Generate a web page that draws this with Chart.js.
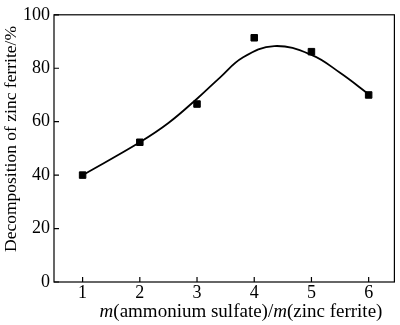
<!DOCTYPE html>
<html>
<head>
<meta charset="utf-8">
<script src="https://cdn.jsdelivr.net/npm/chart.js@4.4.1/dist/chart.umd.min.js"></script>
<style>
  html, body { margin: 0; padding: 0; background: #fff; }
  #wrap { width: 400px; height: 325px; }
</style>
</head>
<body>
<div id="wrap"><canvas id="chart"></canvas></div>
<script>
// measured decomposition at each mass ratio
var ratio = [1, 2, 3, 4, 5, 6];
var decomposition = [40, 52.3, 66.6, 91.4, 86.2, 70.0];

// fitted trend line
var curveX = [1, 2, 2.5, 3, 3.4, 3.8, 4.35, 5, 5.5, 6];
var curveY = [40, 52.3, 59.5, 68.6, 76.5, 84, 88.3, 85, 78.3, 70.3];

var xTicks = [1, 2, 3, 4, 5, 6];
var yTicks = [0, 20, 40, 60, 80, 100];

var serif = "'Liberation Serif', 'Times New Roman', serif";

// frame, inward ticks and the two axis titles
var framePlugin = {
    id: 'frame',
    afterDraw: function(chart){
        var ctx = chart.ctx;
        var a = chart.chartArea;
        var xs = chart.scales.x, ys = chart.scales.y;
        ctx.save();
        ctx.strokeStyle = '#000';
        ctx.lineWidth = 1.2;
        ctx.strokeRect(a.left, a.top, a.right - a.left, a.bottom - a.top);
        ctx.beginPath();
        xTicks.forEach(function(v){
            var px = xs.getPixelForValue(v);
            ctx.moveTo(px, a.bottom);
            ctx.lineTo(px, a.bottom - 5);
        });
        yTicks.forEach(function(v){
            var py = ys.getPixelForValue(v);
            ctx.moveTo(a.left, py);
            ctx.lineTo(a.left + 5, py);
        });
        ctx.stroke();

        ctx.fillStyle = '#000';
        ctx.textBaseline = 'alphabetic';
        // x title, italic m
        var parts = [['m', true], ['(ammonium sulfate)/', false], ['m', true], ['(zinc ferrite)', false]];
        var total = 0;
        parts.forEach(function(p){
            ctx.font = (p[1] ? 'italic ' : '') + '19px ' + serif;
            total += ctx.measureText(p[0]).width;
        });
        var x = 241 - total / 2;
        parts.forEach(function(p){
            ctx.font = (p[1] ? 'italic ' : '') + '19px ' + serif;
            ctx.textAlign = 'left';
            ctx.fillText(p[0], x, 317);
            x += ctx.measureText(p[0]).width;
        });
        // y title
        ctx.translate(16, 139);
        ctx.rotate(-Math.PI / 2);
        ctx.font = '17.5px ' + serif;
        ctx.textAlign = 'center';
        ctx.fillText('Decomposition of zinc ferrite/%', 0, 0);
        ctx.restore();
    }
};

var ctx = document.getElementById('chart').getContext('2d');
new Chart(ctx, {
    type: 'scatter',
    data: {
        datasets: [{
            label: 'fit',
            data: curveX.map(function(v, i){ return {x: v, y: curveY[i]}; }),
            showLine: true,
            borderColor: '#000',
            borderWidth: 1.8,
            pointRadius: 0,
            tension: 0.4,
            fill: false
        }, {
            label: 'measured',
            data: ratio.map(function(v, i){ return {x: v, y: decomposition[i]}; }),
            showLine: false,
            pointStyle: 'rect',
            pointRadius: 4.6,
            pointBackgroundColor: '#000',
            pointBorderColor: '#000',
            pointBorderWidth: 1
        }]
    },
    options: {
        responsive: true,
        maintainAspectRatio: false,
        animation: false,
        layout: { padding: { top: 6, right: 2, left: 0, bottom: 0 } },
        plugins: {
            legend: { display: false },
            tooltip: { enabled: false }
        },
        scales: {
            x: {
                type: 'linear',
                min: 0.5,
                max: 6.45,
                afterBuildTicks: function(s){ s.ticks = xTicks.map(function(v){ return {value: v}; }); },
                afterFit: function(s){ s.height = 43; },
                grid: { display: false, drawTicks: false },
                border: { display: false },
                ticks: { color: '#000', padding: 0, font: { family: serif, size: 18 } }
            },
            y: {
                min: 0,
                max: 100,
                afterBuildTicks: function(s){ s.ticks = yTicks.map(function(v){ return {value: v}; }); },
                afterFit: function(s){ s.width = 54; },
                grid: { display: false, drawTicks: false },
                border: { display: false },
                ticks: { color: '#000', padding: 4, font: { family: serif, size: 18 } }
            }
        }
    },
    plugins: [framePlugin]
});
</script>
</body>
</html>
